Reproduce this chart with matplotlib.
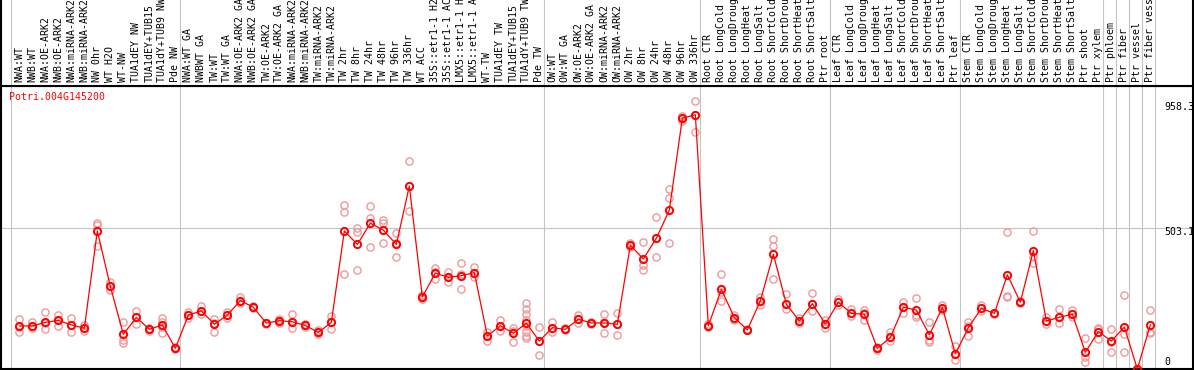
import numpy as np
import matplotlib.pyplot as plt

gene = "Potri.004G145200"

labels = [
    "NWA:WT", "NWB:WT", "NWA:OE-ARK2", "NWB:OE-ARK2", "NWA:miRNA-ARK2", "NWB:miRNA-ARK2",
    "NW 0hr", "WT H2O", "WT-NW", "TUA1dEY NW", "TUA1dEY+TUB15", "TUA1dY+TUB9 NW", "Pde NW",
    "NWA:WT GA", "NWBWT GA", "TW:WT", "TW:WT GA", "NWA:OE-ARK2 GA", "NWB:OE-ARK2 GA",
    "TW:OE-ARK2", "TW:OE-ARK2 GA", "NWA:miRNA-ARK2", "NWB:miRNA-ARK2", "TW:miRNA-ARK2",
    "TW:miRNA-ARK2", "TW 2hr", "TW 8hr", "TW 24hr", "TW 48hr", "TW 96hr", "TW 336hr",
    "WT ACC", "35S::etr1-1 H2", "35S::etr1-1 AC", "LMX5::etr1-1 H", "LMX5::etr1-1 A",
    "WT-TW", "TUA1dEY TW", "TUA1dEY+TUB15", "TUA1dY+TUB9 TW", "Pde TW",
    "OW:WT", "OW:WT GA", "OW:OE-ARK2", "OW:OE-ARK2 GA", "OW:miRNA-ARK2", "OW:miRNA-ARK2",
    "OW 2hr", "OW 8hr", "OW 24hr", "OW 48hr", "OW 96hr", "OW 336hr",
    "Root CTR", "Root LongCold", "Root LongDroug", "Root LongHeat", "Root LongSalt",
    "Root ShortCold", "Root ShortDrou", "Root ShortHeat", "Root ShortSalt", "Ptr root",
    "Leaf CTR", "Leaf LongCold", "Leaf LongDroug", "Leaf LongHeat", "Leaf LongSalt",
    "Leaf ShortCold", "Leaf ShortDrou", "Leaf ShortHeat", "Leaf ShortSalt", "Ptr leaf",
    "Stem CTR", "Stem LongCold", "Stem LongDroug", "Stem LongHeat", "Stem LongSalt",
    "Stem ShortCold", "Stem ShortDrou", "Stem ShortHeat", "Stem ShortSalt", "Ptr shoot",
    "Ptr xylem", "Ptr phloem", "Ptr fiber", "Ptr vessel", "Ptr fiber vess",
]

# mean expression per sample
means = [
    154, 154, 167, 174, 158, 146, 494, 296, 124, 185, 142, 158, 74,
    193, 208, 160, 193, 245, 221, 164, 173, 169, 156, 131, 167, 494, 446, 522, 497,
    446, 655, 258, 343, 328, 334, 345, 118, 155, 128, 164, 100,
    148, 142, 178, 165, 165, 160, 443, 394, 468, 569, 898, 910,
    155, 285, 184, 140, 244, 411, 232, 172, 234, 161,
    239, 199, 196, 74, 113, 221, 211, 122, 220, 54,
    148, 217, 199, 337, 239, 424, 172, 185, 196, 60,
    134, 100, 150, 0, 158,
]

# individual replicates per sample
reps = [
    [178, 150, 134], [169, 155, 146], [205, 165, 142], [193, 176, 155], [184, 158, 134],
    [158, 146, 136], [524, 516, 440], [313, 296, 283], [167, 104, 92], [208, 185, 160],
    [148, 142, 137], [181, 170, 150, 128], [78, 72],
    [205, 193, 181], [227, 208, 196], [178, 165, 134], [205, 193, 181], [259, 245, 235],
    [226, 221, 217], [166, 164, 162], [178, 173, 166], [196, 169, 146], [160, 156, 150],
    [139, 128, 124], [191, 167, 142], [587, 561, 339], [506, 492, 355], [585, 542, 438],
    [534, 522, 452], [486, 450, 402], [744, 655, 567], [265, 258, 250], [363, 347, 321],
    [348, 328, 310], [378, 340, 285], [366, 345, 331], [134, 118, 100], [175, 155, 136],
    [146, 135, 98], [235, 215, 196, 175, 155, 134, 119, 110], [151, 100, 50],
    [167, 148, 134], [146, 142, 138], [193, 178, 164], [169, 165, 160], [197, 170, 128],
    [199, 160, 122], [450, 443, 436], [456, 372, 355], [543, 468, 400], [645, 611, 450],
    [907, 895, 886], [958.3, 910, 850],
    [160, 155, 150], [339, 275, 244], [193, 184, 175], [142, 140, 138], [259, 244, 229],
    [466, 442, 322], [267, 232, 215], [181, 172, 164], [271, 234, 209], [175, 161, 146],
    [250, 239, 229], [213, 199, 190], [211, 199, 175], [79, 74, 69], [131, 113, 100],
    [241, 221, 199], [253, 193, 186], [167, 104, 96], [229, 215, 211], [84, 54, 32],
    [169, 155, 119], [229, 217, 209], [201, 199, 196], [492, 263, 256], [243, 239, 235],
    [494, 402, 378], [185, 172, 160], [215, 185, 164], [211, 196, 187], [110, 44, 26],
    [146, 143, 106], [142, 98, 60], [265, 124, 60], [0, 0, 0], [210, 134, 128],
]

yticks = [958.3, 503.1, 0]
# group boundaries (index of last sample before a separator)
group_ends = [12, 40, 52, 62, 72, 83, 84, 85, 86, 87]

W, H = 1194, 370
fig = plt.figure(figsize=(W / 100, H / 100), dpi=100)

def fx(px):
    return px / W

def fy(py):
    return 1 - py / H

mono = "DejaVu Sans Mono"
fs = 7.1
grey = "#c4c4c4"
xlim = (-1.41, 90.28)
x = np.arange(len(means))

ax = fig.add_axes([fx(1), fy(369), fx(1192), (369 - 86) / H])
top = fig.add_axes([fx(1), fy(86), fx(1192), 86 / H])

for a in (ax, top):
    a.set_xlim(*xlim)
    a.set_xticks([])
    a.set_yticks([])
    a.axvline(-0.66, color=grey, lw=0.8, zorder=0)
    for g in group_ends:
        a.axvline(g + 0.38, color=grey, lw=0.8, zorder=0)
    for s in a.spines.values():
        s.set_linewidth(1.5)

top.spines["top"].set_visible(False)
top.set_ylim(0, 86)
for i, lab in enumerate(labels):
    top.text(i, 4, lab, rotation=90, ha="center", va="bottom",
             fontsize=fs, family=mono, color="black")

ax.set_ylim(0, 1013)
ax.axhline(503.1, color=grey, lw=0.8, zorder=0)

rx = [i for i, r in enumerate(reps) for _ in r]
ry = [v for r in reps for v in r]
ax.plot(rx, ry, "o", ms=5.2, mfc="none", mec="#ee9a9a", mew=1.0, zorder=2)
ax.plot(x, means, "-", color="red", lw=0.9, zorder=3)
ax.plot(x, means, "o", ms=5.2, mfc="none", mec="red", mew=1.4, zorder=4)

fig.text(fx(9.5), fy(97.5), gene, color="red", fontsize=fs, family=mono,
         ha="left", va="center")

for val, py in zip(yticks, [107.3, 231.7, 361.7]):
    fig.text(fx(1164), fy(py), f"{val:g}", fontsize=fs, family=mono,
             ha="left", va="center", color="black")

fig.savefig("out.png", dpi=100)
